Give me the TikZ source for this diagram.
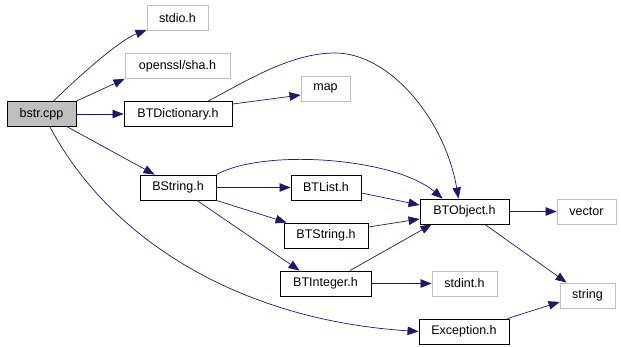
\documentclass[tikz,border=0pt]{standalone}
\usepackage{fontspec}
\setmainfont{Liberation Sans}
\usetikzlibrary{arrows.meta}
\definecolor{edgec}{HTML}{191970}
\definecolor{greyb}{HTML}{BFBFBF}
\begin{document}
\begin{tikzpicture}[x=1pt,y=-1pt,
  box/.style={draw=black,line width=0.9pt,minimum height=25pt,inner sep=0pt,font=\fontsize{12.5}{14}\selectfont},
  ext/.style={box,draw=greyb},
  edge/.style={draw=edgec,line width=0.7pt,-{Triangle[length=11pt,width=8.5pt]}}]
\useasboundingbox (0,0) rectangle (621,347);
\node[box,fill=greyb,minimum width=69pt] (bstr) at (41.5,114) {bstr.cpp};
\node[ext,minimum width=61pt] (stdio) at (177.5,18) {stdio.h};
\node[ext,minimum width=105pt] (sha) at (177.5,66) {openssl/sha.h};
\node[box,minimum width=108pt] (dict) at (178,114) {BTDictionary.h};
\node[ext,minimum width=49pt] (map) at (325.5,88.5) {map};
\node[box,minimum width=76pt] (bstring) at (178,187.5) {BString.h};
\node[box,minimum width=70pt] (list) at (326,187.5) {BTList.h};
\node[box,minimum width=84pt] (btstring) at (326,235.5) {BTString.h};
\node[box,minimum width=91pt] (integer) at (325.5,283.5) {BTInteger.h};
\node[box,minimum width=89pt] (object) at (464.5,211.5) {BTObject.h};
\node[ext,minimum width=59pt] (vector) at (586.5,211.5) {vector};
\node[ext,minimum width=65pt] (stdint) at (464.5,283.5) {stdint.h};
\node[ext,minimum width=55pt] (string) at (587.5,295.5) {string};
\node[box,minimum width=90pt] (exc) at (464,331.5) {Exception.h};

\draw[edge] ([xshift=12pt]bstr.north) .. controls (80,75) and (120,40) .. ([yshift=1pt]stdio.south west);
\draw[edge] (bstr.north east) -- (sha.south west);
\draw[edge] (bstr.east) -- (dict.west);
\draw[edge] ([xshift=-9pt]bstr.south east) -- ([xshift=15pt]bstring.north west);
\draw[edge] ([xshift=8.5pt]bstr.south) .. controls (110,240) and (240,320) .. (exc.west);
\draw[edge] ([yshift=-3pt]dict.north east) -- ([yshift=-6.5pt]map.west);
\draw[edge] ([xshift=30pt]dict.north) .. controls (245,82) and (290,53) .. (335,53) .. controls (390,53) and (445,120) .. ([xshift=-6pt]object.north);
\draw[edge] (bstring.north east) .. controls (265,148) and (395,158) .. ([xshift=23pt]object.north west);
\draw[edge] (bstring.east) -- (list.west);
\draw[edge] (bstring.south east) -- ([xshift=3pt]btstring.north west);
\draw[edge] ([xshift=19pt]bstring.south) -- ([xshift=20pt]integer.north west);
\draw[edge] ([yshift=-5.5pt]list.east) -- ([yshift=6.5pt]object.west);
\draw[edge] ([yshift=8.5pt]btstring.east) -- ([yshift=-7.5pt]object.west);
\draw[edge] ([xshift=24.5pt]integer.north) -- ([xshift=12pt]object.south west);
\draw[edge] (integer.east) -- (stdint.west);
\draw[edge] (object.east) -- (vector.west);
\draw[edge] ([xshift=20.5pt]object.south) -- ([xshift=7pt]string.north west);
\draw[edge] ([xshift=-2pt]exc.north east) -- ([yshift=-6.5pt]string.west);
\end{tikzpicture}
\end{document}
